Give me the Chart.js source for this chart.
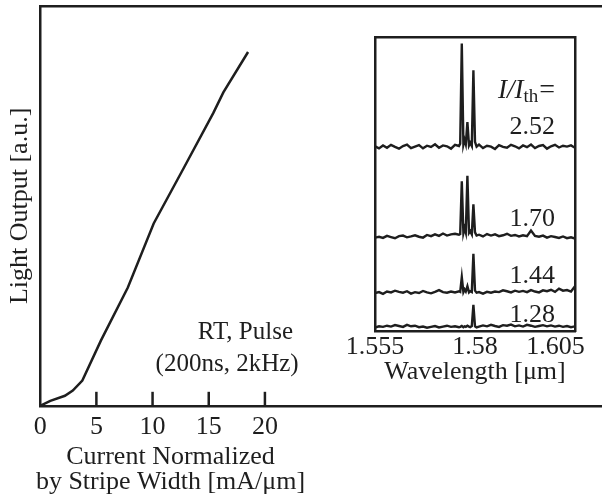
<!DOCTYPE html>
<html>
<head>
<meta charset="utf-8">
<script src="https://cdn.jsdelivr.net/npm/chart.js@4/dist/chart.umd.min.js"></script>
<style>
  html, body { margin: 0; padding: 0; background: #fff; overflow: hidden; }
  #wrap { position: relative; width: 602px; height: 501px; overflow: hidden; }
  #main { position: absolute; left: 0; top: 0; }
  #inset { position: absolute; left: 300px; top: 0; }
</style>
</head>
<body>
<div id="wrap">
  <canvas id="main" width="602" height="501"></canvas>
  <canvas id="inset" width="330" height="420"></canvas>
</div>
<script>
// L-I curve (current normalized by stripe width vs light output, a.u.)
const currentX = [0, 0.9, 2.2, 2.9, 3.75, 5.4, 7.8, 10.1, 12.8, 15.4, 16.3, 18.5]
const lightY = [0, 1.25, 2.5, 3.8, 6.3, 16.3, 29.6, 45.6, 59.6, 73.2, 78.4, 88.5]
const currentTicks = [0, 5, 10, 15, 20]

// spectra (inset)
const wavelengths = [
  1.555, 1.556, 1.557, 1.558, 1.559, 1.560, 1.561, 1.562, 1.563, 1.564, 1.565,
  1.566, 1.567, 1.568, 1.569, 1.570, 1.571, 1.572, 1.573, 1.574, 1.575, 1.576,
  1.5763, 1.5767, 1.5771, 1.5774, 1.5777, 1.5781, 1.5785, 1.5788, 1.5792, 1.5796, 1.5800, 1.5804,
  1.581, 1.582, 1.583, 1.584, 1.585, 1.586, 1.587, 1.588, 1.589, 1.590, 1.591, 1.592,
  1.593, 1.594, 1.595, 1.596, 1.597, 1.598, 1.599, 1.600, 1.601, 1.602, 1.603, 1.604, 1.605
]
const wavelengthTicks = [1.555, 1.58, 1.605]
const ratios = ["2.52", "1.70", "1.44", "1.28"]
const offsets = [62.6, 32.1, 13.1, 1.4]
const spec252 = [
  0.3, -0.4, 0.6, -0.2, 0.8, 0.1, -0.5, 0.4, 0.9, -0.3, 0.2, 0.7, -0.4, 0.5, 0.1, 1.0, -0.2, 0.6, 0.3, -0.5, 0.8, 0.4,
  1.2, 35.2, 0.8, 2.5, 1.0, 8.5, 0.6, 1.5, 0.4, 26.1, 1.8, 0.2,
  0.9, -0.3, 0.5, 0.2, -0.6, 0.7, 0.1, -0.2, 0.8, 0.3, -0.4, 0.6, 0.0, 0.9, -0.3, 0.4, 0.7, -0.5, 0.3, 0.8, -0.1, 0.5, 0.2, 0.6, -0.2
]
const spec170 = [
  -0.2, 0.1, -0.3, 0.4, 0.0, -0.4, 0.3, 0.5, -0.1, 0.2, 0.6, 0.1, -0.2, 0.7, 0.3, 0.9, 0.4, 1.2, 0.5, 0.9, 1.1, 0.8,
  1.0, 18.9, 1.3, 3.0, 1.5, 20.8, 1.4, 2.0, 0.9, 11.1, 1.6, 0.5,
  0.8, 0.2, 1.0, 0.5, 0.9, 0.3, 0.6, 1.1, 0.4, 0.7, 0.2, 0.6, 0.3, 2.2, 0.4, 0.1, 0.5, -0.2, 0.3, 0.0, -0.3, 0.2, -0.4, -0.1, -0.5
]
const spec144 = [
  0.0, 0.3, -0.3, 0.5, 0.2, 0.8, 0.4, 0.1, 0.6, -0.2, 0.3, 0.0, 0.7, 0.2, -0.1, 0.4, 1.0, 0.3, 0.1, 0.5, 0.2, 0.6,
  0.4, 5.4, 0.3, 1.2, 0.5, 2.3, 0.2, 0.6, 0.3, 13.3, 0.8, 0.1,
  0.3, -0.2, 0.4, 0.1, 0.5, 0.3, 0.9, 0.6, 0.2, 0.8, 0.4, 0.7, 0.3, 1.0, 0.5, 0.2, 0.9, 0.6, 1.1, 0.4, 1.5, 0.8, 1.0, 0.5, 2.3
]
const spec128 = [
  0.0, 0.4, 0.2, 0.6, 0.3, 0.8, 0.5, 0.2, 0.9, 0.4, 0.6, 0.1, 0.3, -0.1, 0.2, 0.5, 0.0, 0.3, 0.6, 0.2, 0.4, 0.1,
  0.2, 0.5, 0.1, 0.4, 0.2, 0.6, 0.3, 0.1, 0.5, 7.7, 0.4, 0.0,
  0.3, 0.7, 0.4, 0.9, 0.5, 0.2, 0.8, 0.6, 1.0, 0.4, 0.7, 0.3, 0.9, 0.6, 0.2, 0.5, 0.8, 0.4, 0.7, 0.3, 0.6, 0.2, 0.5, 0.1, 0.4
]
const spectra = [spec252, spec170, spec144, spec128]

const ink = "#1e1e1e"
const serif = "'Liberation Serif', 'Times New Roman', serif"
Chart.defaults.font.family = serif
Chart.defaults.color = ink
Chart.defaults.animation = false

const noTicks = {display: false}
const noGrid = {display: false, drawTicks: false}
const edge = {display: true, width: 2.5, color: ink}

// main chart: inward ticks, x title and notes
const mainDecor = {
  id: "mainDecor",
  afterDraw(chart) {
    const {ctx, chartArea, scales} = chart
    const x = scales.x, y = scales.y
    ctx.save()
    ctx.strokeStyle = ink
    ctx.lineWidth = 2.5
    currentTicks.forEach(v => {
      if (v === 0) return
      const px = x.getPixelForValue(v)
      ctx.beginPath()
      ctx.moveTo(px, chartArea.bottom)
      ctx.lineTo(px, chartArea.bottom - 14)
      ctx.stroke()
    })
    ctx.fillStyle = ink
    ctx.textBaseline = "alphabetic"
    ctx.font = "26px " + serif
    ctx.textAlign = "center"
    const cx = x.getPixelForValue(11.6)
    ctx.fillText("Current Normalized", cx, chartArea.bottom + 58)
    ctx.fillText("by Stripe Width [mA/\u03bcm]", cx, chartArea.bottom + 83)
    ctx.font = "25px " + serif
    ctx.textAlign = "right"
    ctx.fillText("RT, Pulse", x.getPixelForValue(22.5), y.getPixelForValue(16.8))
    ctx.fillText("(200ns, 2kHz)", x.getPixelForValue(23.0), y.getPixelForValue(8.8))
    ctx.restore()
  }
}

new Chart(document.getElementById("main"), {
  type: "line",
  data: {
    datasets: [{
      data: currentX.map((c, i) => ({x: c, y: lightY[i]})),
      borderColor: ink,
      borderWidth: 2.5,
      pointRadius: 0,
      tension: 0,
      fill: false
    }]
  },
  options: {
    responsive: false,
    layout: {padding: {left: 1, top: 6, right: 0, bottom: 52}},
    plugins: {legend: {display: false}, tooltip: {enabled: false}},
    scales: {
      x: {
        type: "linear", min: 0, max: 50,
        afterBuildTicks: s => { s.ticks = currentTicks.map(v => ({value: v})) },
        ticks: {font: {size: 26}, color: ink, padding: 6, autoSkip: false, maxRotation: 0},
        grid: noGrid,
        border: edge
      },
      x2: {
        type: "linear", position: "top", min: 0, max: 50, display: true,
        ticks: noTicks, grid: noGrid, border: edge
      },
      y: {
        min: 0, max: 100,
        ticks: noTicks, grid: noGrid, border: edge,
        title: {display: true, text: "Light Output [a.u.]", font: {size: 26}, color: ink, padding: {top: 4, bottom: 4}}
      }
    }
  },
  plugins: [mainDecor]
})

// inset: I/Ith labels
const insetDecor = {
  id: "insetDecor",
  afterDraw(chart) {
    const {ctx, scales} = chart
    const x = scales.x, y = scales.y
    const right = x.getPixelForValue(1.6)
    ctx.save()
    ctx.fillStyle = ink
    ctx.textBaseline = "alphabetic"
    ctx.textAlign = "right"
    ctx.font = "26px " + serif
    const labelY = [67.2, 35.8, 16.5, 3.4]
    ratios.forEach((r, i) => ctx.fillText(r, right, y.getPixelForValue(labelY[i])))
    // I/I_th=
    const by = y.getPixelForValue(79.2)
    let px = right
    ctx.font = "28px " + serif
    ctx.fillText("=", px, by)
    px -= ctx.measureText("=").width + 1
    ctx.font = "19px " + serif
    ctx.fillText("th", px, by + 4)
    px -= ctx.measureText("th").width
    ctx.font = "italic 27px " + serif
    ctx.fillText("I/I", px, by)
    ctx.restore()
  }
}

new Chart(document.getElementById("inset"), {
  type: "line",
  data: {
    datasets: spectra.map((s, k) => ({
      data: wavelengths.map((w, i) => ({x: w, y: offsets[k] + s[i]})),
      borderColor: ink,
      borderWidth: 2.4,
      pointRadius: 0,
      tension: 0,
      fill: false
    }))
  },
  options: {
    responsive: false,
    layout: {padding: {left: 75, top: 37, right: 55, bottom: 28}},
    plugins: {legend: {display: false}, tooltip: {enabled: false}},
    scales: {
      x: {
        type: "linear", min: 1.555, max: 1.605,
        afterBuildTicks: s => { s.ticks = wavelengthTicks.map(v => ({value: v})) },
        ticks: {
          font: {size: 26}, color: ink, padding: 0, autoSkip: false, maxRotation: 0,
          callback: v => v === 1.605 ? "1.605\u2002\u2002\u2002" : String(v)
        },
        grid: noGrid,
        border: edge,
        title: {display: true, text: "Wavelength [\u03bcm]", font: {size: 26}, color: ink, padding: {top: -6, bottom: 4}}
      },
      x2: {
        type: "linear", position: "top", min: 1.555, max: 1.605, display: true,
        ticks: noTicks, grid: noGrid, border: edge
      },
      y: {
        min: 0, max: 100,
        ticks: noTicks, grid: noGrid, border: edge
      },
      y2: {
        position: "right", min: 0, max: 100, display: true,
        ticks: noTicks, grid: noGrid, border: edge
      }
    }
  },
  plugins: [insetDecor]
})
</script>
</body>
</html>
